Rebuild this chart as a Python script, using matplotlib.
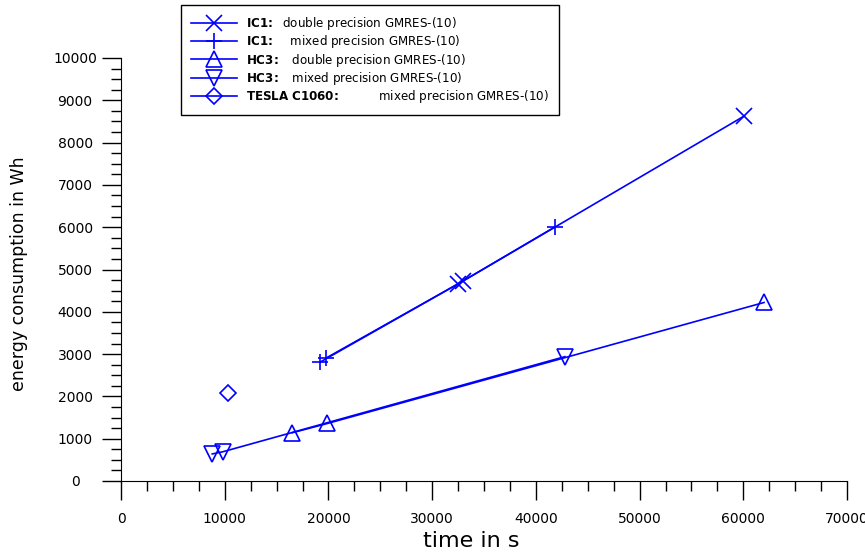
import numpy as np
import matplotlib
matplotlib.use('Agg')
import matplotlib.pyplot as plt
from matplotlib.ticker import MultipleLocator

# ===== data =====
ic1_double_t = [19800, 33000, 60100]
ic1_double_e = [2910, 4730, 8630]
ic1_double_m = ['+', 'x', 'x']

ic1_mixed_t = [19200, 32500, 41800]
ic1_mixed_e = [2810, 4660, 6000]
ic1_mixed_m = ['+', 'x', '+']

hc3_double_t = [16500, 19900, 62000]
hc3_double_e = [1140, 1360, 4220]
hc3_double_m = ['^', '^', '^']

hc3_mixed_t = [8800, 9800, 42800]
hc3_mixed_e = [640, 690, 2940]
hc3_mixed_m = ['v', 'v', 'v']

tesla_t = [10300]
tesla_e = [2080]
tesla_m = ['D']

# legend: bold prefix (mathtext), gap (in spaces), normal text, legend marker
leg_prefix = [r'$\mathbf{IC1}\!\mathbf{:}$', r'$\mathbf{IC1}\!\mathbf{:}$',
              r'$\mathbf{HC3}\!\mathbf{:}$', r'$\mathbf{HC3}\!\mathbf{:}$',
              r'$\mathbf{TESLA\ C1060}\!\mathbf{:}$']
leg_gap = [2, 4, 3, 3, 10]
leg_text = ['double precision GMRES-(10)', 'mixed precision GMRES-(10)',
            'double precision GMRES-(10)', 'mixed precision GMRES-(10)',
            'mixed precision GMRES-(10)']
leg_marker = ['x', '+', '^', 'v', 'D']

series = [(ic1_double_t, ic1_double_e, ic1_double_m),
          (ic1_mixed_t, ic1_mixed_e, ic1_mixed_m),
          (hc3_double_t, hc3_double_e, hc3_double_m),
          (hc3_mixed_t, hc3_mixed_e, hc3_mixed_m),
          (tesla_t, tesla_e, tesla_m)]

blue = '#0000ff'
msize = {'+': 11, 'x': 11, '^': 11, 'v': 11, 'D': 8}

plt.rcParams['mathtext.fontset'] = 'dejavusans'

W, H = 865, 554
fig = plt.figure(figsize=(W/100, H/100), dpi=100)
ax = fig.add_axes([121/W, 73/H, 726/W, 423/H])

for t, e, marks in series:
    if len(t) > 1:
        ax.plot(t, e, color=blue, lw=1.2)
    # markers point by point
    for ti, ei, mk in zip(t, e, marks):
        ax.plot([ti], [ei], linestyle='none', marker=mk, ms=msize[mk],
                mfc='none', mec=blue, mew=1.2)

handles = []
for mk in leg_marker:
    h, = ax.plot([], [], color=blue, lw=1.2, marker=mk, ms=msize[mk],
                 mfc='none', mec=blue, mew=1.2)
    handles.append(h)

ax.set_xlim(0, 70000)
ax.set_ylim(0, 10000)
ax.xaxis.set_major_locator(MultipleLocator(10000))
ax.xaxis.set_minor_locator(MultipleLocator(2500))
ax.yaxis.set_major_locator(MultipleLocator(1000))
ax.yaxis.set_minor_locator(MultipleLocator(250))

for s in ['top', 'right']:
    ax.spines[s].set_visible(False)

ax.tick_params(axis='x', which='major', direction='out', length=14, width=1, pad=8, labelsize=10)
ax.tick_params(axis='x', which='minor', direction='out', length=7, width=1)
ax.tick_params(axis='y', which='major', direction='out', length=14, width=1, pad=19, labelsize=10)
ax.tick_params(axis='y', which='minor', direction='out', length=7, width=1)
for lab in ax.get_yticklabels():
    lab.set_horizontalalignment('center')

ax.set_xlabel('time in s', fontsize=16)
ax.set_ylabel('energy consumption in Wh', fontsize=12.5)
ax.xaxis.set_label_coords(0.483, -0.119)
ax.yaxis.set_label_coords(-0.128, 0.49)

fs = 8.6
labels = [p + ' ' * g + txt for p, g, txt in zip(leg_prefix, leg_gap, leg_text)]
leg = fig.legend(handles, labels, loc='upper left', bbox_to_anchor=(181/W, 1 - 5/H),
                 fontsize=fs, fancybox=False, edgecolor='black', framealpha=1,
                 handlelength=3.8, labelspacing=0.1, borderpad=0.85,
                 handletextpad=0.75, borderaxespad=0)
leg.get_frame().set_linewidth(1.0)

fig.savefig('out.png', dpi=100)
